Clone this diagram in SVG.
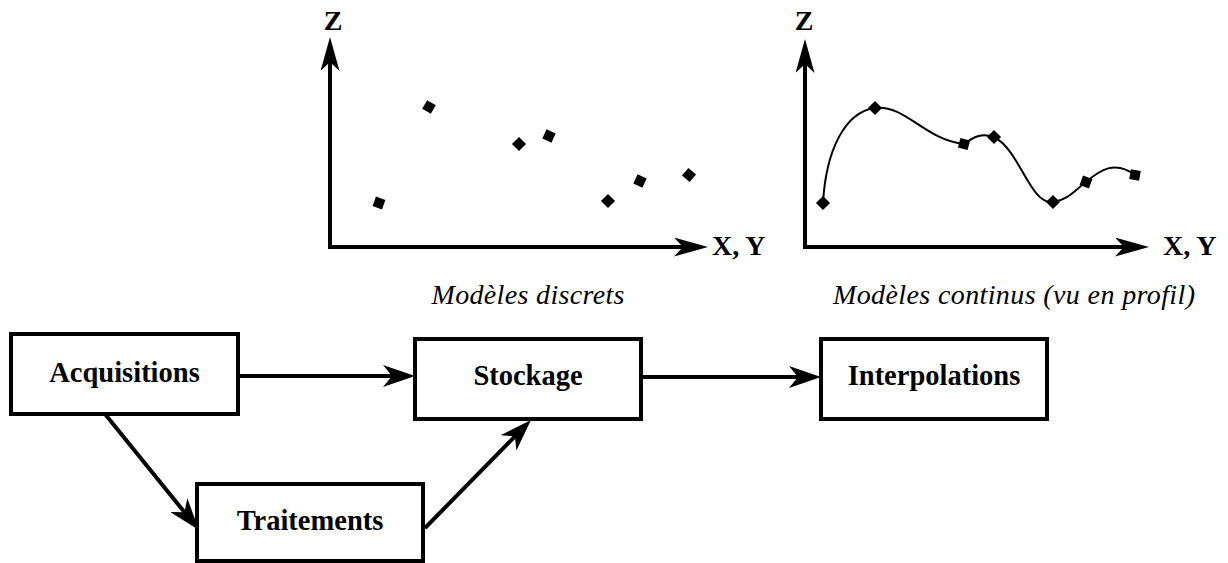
<svg xmlns="http://www.w3.org/2000/svg" width="1228" height="563" viewBox="0 0 1228 563">
<style>
.box{fill:#fff;stroke:#000;stroke-width:4}
.lbl{font-weight:bold;font-size:28.5px;fill:#000;text-anchor:middle}
.ax{font-weight:bold;font-size:28px;fill:#000}
.cap{font-style:italic;font-size:28px;fill:#000;text-anchor:middle}
.conn{fill:none;stroke:#000;stroke-width:4}
.axis{fill:none;stroke:#000;stroke-width:4}
.curve{fill:none;stroke:#000;stroke-width:2}
</style>
<defs>
<marker id="ah" viewBox="0 0 32 22" refX="21" refY="11" markerWidth="32" markerHeight="22" markerUnits="userSpaceOnUse" orient="auto">
<path d="M0,0 L32,11 L0,22 L9,11 Z" fill="#000"/>
</marker>
<marker id="axh" viewBox="0 0 34 19" refX="23" refY="9.5" markerWidth="34" markerHeight="19" markerUnits="userSpaceOnUse" orient="auto-start-reverse">
<path d="M0,0 L34,9.5 L0,19 L9,9.5 Z" fill="#000"/>
</marker>
<rect id="pt" x="-5" y="-5" width="10" height="10" fill="#000"/>
</defs>

<g id="chart-discret" font-family="'Liberation Serif', 'Times New Roman', Times, serif">
<path class="axis" d="M330,48 L330,247 L697,247" marker-start="url(#axh)" marker-end="url(#axh)"/>
<text class="ax" x="333" y="30" text-anchor="middle">Z</text>
<text class="ax" x="712" y="255">X, Y</text>
<use href="#pt" transform="translate(429,107) rotate(30)"/>
<use href="#pt" transform="translate(379,203) rotate(20)"/>
<use href="#pt" transform="translate(519,144) rotate(45)"/>
<use href="#pt" transform="translate(549,136) rotate(25)"/>
<use href="#pt" transform="translate(608,201) rotate(45)"/>
<use href="#pt" transform="translate(640,181) rotate(25)"/>
<use href="#pt" transform="translate(689,175) rotate(40)"/>
<text class="cap" x="528" y="304" textLength="193">Modèles discrets</text>
</g>

<g id="chart-continu" font-family="'Liberation Serif', 'Times New Roman', Times, serif">
<path class="axis" d="M805,50 L805,247 L1138,247" marker-start="url(#axh)" marker-end="url(#axh)"/>
<text class="ax" x="804" y="30" text-anchor="middle">Z</text>
<text class="ax" x="1163" y="255">X, Y</text>
<path class="curve" d="M823,203 C826,150 845,112 875,108 C905,104 925,140 964,144 C975,136 982,133 994,137 C1020,150 1030,205 1053,202 C1068,200 1075,190 1086,182 C1100,170 1115,160 1135,175"/>
<use href="#pt" transform="translate(823,203) rotate(45)"/>
<use href="#pt" transform="translate(875,108) rotate(45)"/>
<use href="#pt" transform="translate(964,144) rotate(15)"/>
<use href="#pt" transform="translate(994,137) rotate(45)"/>
<use href="#pt" transform="translate(1053,202) rotate(45)"/>
<use href="#pt" transform="translate(1086,182) rotate(20)"/>
<use href="#pt" transform="translate(1135,175) rotate(10)"/>
<text class="cap" x="1014" y="304" textLength="362">Modèles continus (vu en profil)</text>
</g>

<g id="connectors">
<path class="conn" d="M238,376 L404,376" marker-end="url(#ah)"/>
<path class="conn" d="M641,377 L810,377" marker-end="url(#ah)"/>
<path class="conn" d="M105,414 L192,521.5" marker-end="url(#ah)"/>
<path class="conn" d="M425,528 L523.3,427.9" marker-end="url(#ah)"/>
</g>

<g id="node-acquisitions" font-family="'Liberation Serif', 'Times New Roman', Times, serif">
<rect class="box" x="11" y="334" width="227" height="80"/>
<text class="lbl" x="124.5" y="382">Acquisitions</text>
</g>
<g id="node-stockage" font-family="'Liberation Serif', 'Times New Roman', Times, serif">
<rect class="box" x="415" y="339" width="226" height="80"/>
<text class="lbl" x="528" y="385">Stockage</text>
</g>
<g id="node-interpolations" font-family="'Liberation Serif', 'Times New Roman', Times, serif">
<rect class="box" x="821" y="339" width="226" height="80"/>
<text class="lbl" x="934" y="385">Interpolations</text>
</g>
<g id="node-traitements" font-family="'Liberation Serif', 'Times New Roman', Times, serif">
<rect class="box" x="197" y="484" width="226" height="77"/>
<text class="lbl" x="310" y="530">Traitements</text>
</g>
</svg>
